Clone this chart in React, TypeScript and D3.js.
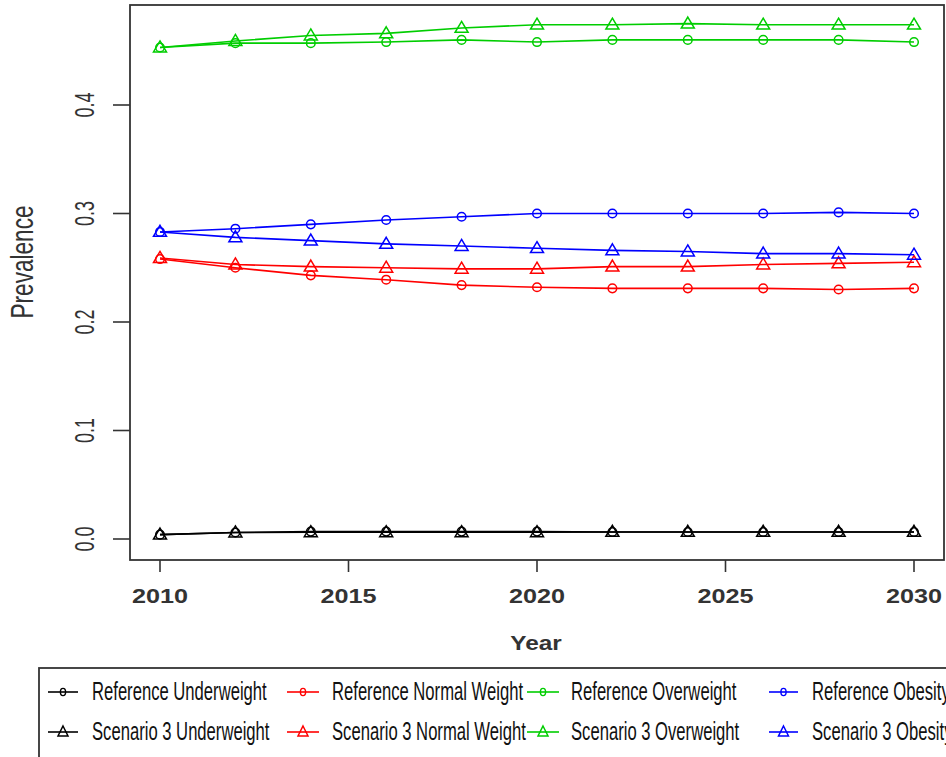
import React from "react";
import * as d3 from "d3";

// Projection years (markers every two years)
const years = [2010, 2012, 2014, 2016, 2018, 2020, 2022, 2024, 2026, 2028, 2030];

// Reference scenario prevalence
const refUnderweight = [0.004, 0.006, 0.0068, 0.0068, 0.0068, 0.0068, 0.0065, 0.0065, 0.0065, 0.0065, 0.0065];
const refNormal = [0.258, 0.25, 0.243, 0.239, 0.234, 0.232, 0.231, 0.231, 0.231, 0.23, 0.231];
const refOverweight = [0.453, 0.457, 0.457, 0.458, 0.46, 0.458, 0.46, 0.46, 0.46, 0.46, 0.458];
const refObesity = [0.283, 0.286, 0.29, 0.294, 0.297, 0.3, 0.3, 0.3, 0.3, 0.301, 0.3];

// Scenario 3 prevalence
const sc3Underweight = [0.004, 0.006, 0.0062, 0.0062, 0.0062, 0.0062, 0.0065, 0.0065, 0.0065, 0.0065, 0.0065];
const sc3Normal = [0.259, 0.253, 0.251, 0.25, 0.249, 0.249, 0.251, 0.251, 0.253, 0.254, 0.255];
const sc3Overweight = [0.453, 0.459, 0.464, 0.466, 0.471, 0.474, 0.474, 0.475, 0.474, 0.474, 0.474];
const sc3Obesity = [0.283, 0.278, 0.275, 0.272, 0.27, 0.268, 0.266, 0.265, 0.263, 0.263, 0.262];

const xTicks = [2010, 2015, 2020, 2025, 2030];
const yTicks = [0.0, 0.1, 0.2, 0.3, 0.4];

const categoryColors = ["#000000", "#ff0000", "#00cd00", "#0000ff"];
const refNames = ["Reference Underweight", "Reference Normal Weight", "Reference Overweight", "Reference Obesity"];
const sc3Names = ["Scenario 3 Underweight", "Scenario 3 Normal Weight", "Scenario 3 Overweight", "Scenario 3 Obesity"];
const refSeries = [refUnderweight, refNormal, refOverweight, refObesity];
const sc3Series = [sc3Underweight, sc3Normal, sc3Overweight, sc3Obesity];

type Series = { name: string; color: string; shape: "circle" | "triangle"; values: number[] };

const series: Series[] = [
  ...refSeries.map((values, i) => ({ name: refNames[i], color: categoryColors[i], shape: "circle" as const, values })),
  ...sc3Series.map((values, i) => ({ name: sc3Names[i], color: categoryColors[i], shape: "triangle" as const, values })),
];

const W = 946;
const H = 757;
const frame = { left: 130, top: 5, right: 944, bottom: 560 };

const x = d3.scaleLinear().domain([2010, 2030]).range([160, 914]);
const y = d3.scaleLinear().domain([0, 0.4]).range([539, 105]);

const triPath = (w: number, h: number) =>
  `M0,${-h * 0.6}L${w / 2},${h * 0.4}L${-w / 2},${h * 0.4}Z`;

function Marker({ shape, color, cx, cy, small }: { shape: string; color: string; cx: number; cy: number; small?: boolean }) {
  if (shape === "circle") {
    return small ? (
      <ellipse cx={cx} cy={cy} rx={2.6} ry={3.6} fill="none" stroke={color} strokeWidth={1.4} />
    ) : (
      <circle cx={cx} cy={cy} r={4.3} fill="none" stroke={color} strokeWidth={1.5} />
    );
  }
  const d = small ? triPath(10, 10) : triPath(13, 11);
  return <path d={d} transform={`translate(${cx},${cy})`} fill="none" stroke={color} strokeWidth={1.5} />;
}

export default function App() {
  const line = d3
    .line<number>()
    .x((_, i) => x(years[i]))
    .y((v) => y(v));

  const legendCols = [
    { lineX0: 48, lineX1: 78, textX: 92 },
    { lineX0: 287, lineX1: 319, textX: 332 },
    { lineX0: 527, lineX1: 559, textX: 571 },
    { lineX0: 769, lineX1: 798, textX: 812 },
  ];
  const legendRows = [692, 732];

  return (
    <svg
      width={W}
      height={H}
      style={{ position: "absolute", left: 0, top: 0, background: "#fff" }}
      fontFamily="'Liberation Sans', Arial, sans-serif"
    >
      <rect width={W} height={H} fill="#fff" />

      {/* series lines and markers */}
      {series.map((s) => (
        <g key={s.name}>
          <path d={line(s.values) ?? ""} fill="none" stroke={s.color} strokeWidth={1.6} />
          {s.values.map((v, i) => (
            <Marker key={i} shape={s.shape} color={s.color} cx={x(years[i])} cy={y(v)} />
          ))}
        </g>
      ))}

      {/* plot frame */}
      <rect
        x={frame.left}
        y={frame.top}
        width={frame.right - frame.left}
        height={frame.bottom - frame.top}
        fill="none"
        stroke="#333"
        strokeWidth={1.8}
      />

      {/* y axis */}
      {yTicks.map((t) => (
        <g key={t}>
          <line x1={113} x2={frame.left} y1={y(t)} y2={y(t)} stroke="#333" strokeWidth={1.6} />
          <g transform={`translate(85,${y(t)}) scale(1.5,1) rotate(-90)`}>
            <text textAnchor="middle" dominantBaseline="central" fontSize={18} fill="#333">
              {t.toFixed(1)}
            </text>
          </g>
        </g>
      ))}
      <g transform="translate(22,262) scale(1.4,1) rotate(-90)">
        <text textAnchor="middle" dominantBaseline="central" fontSize={22.6} fill="#333">
          Prevalence
        </text>
      </g>

      {/* x axis */}
      {xTicks.map((t) => (
        <g key={t}>
          <line x1={x(t)} x2={x(t)} y1={frame.bottom} y2={572} stroke="#333" strokeWidth={1.6} />
          <g transform={`translate(${x(t)},603) scale(1.2,1)`}>
            <text textAnchor="middle" fontSize={21} fontWeight="bold" fill="#333">
              {t}
            </text>
          </g>
        </g>
      ))}
      <g transform="translate(536,650) scale(1.16,1)">
        <text textAnchor="middle" fontSize={21} fontWeight="bold" fill="#333">
          Year
        </text>
      </g>

      {/* legend */}
      <rect x={39} y={668} width={W} height={H} fill="none" stroke="#333" strokeWidth={1.8} />
      {[refNames, sc3Names].map((names, r) =>
        names.map((name, c) => {
          const col = legendCols[c];
          const ly = legendRows[r];
          const mid = (col.lineX0 + col.lineX1) / 2;
          return (
            <g key={name}>
              <line x1={col.lineX0} x2={col.lineX1} y1={ly} y2={ly} stroke={categoryColors[c]} strokeWidth={1.6} />
              <Marker shape={r === 0 ? "circle" : "triangle"} color={categoryColors[c]} cx={mid} cy={ly} small />
              <g transform={`translate(${col.textX},${ly + 8}) scale(0.64,1)`}>
                <text fontSize={26} fill="#111">
                  {name}
                </text>
              </g>
            </g>
          );
        })
      )}
    </svg>
  );
}
